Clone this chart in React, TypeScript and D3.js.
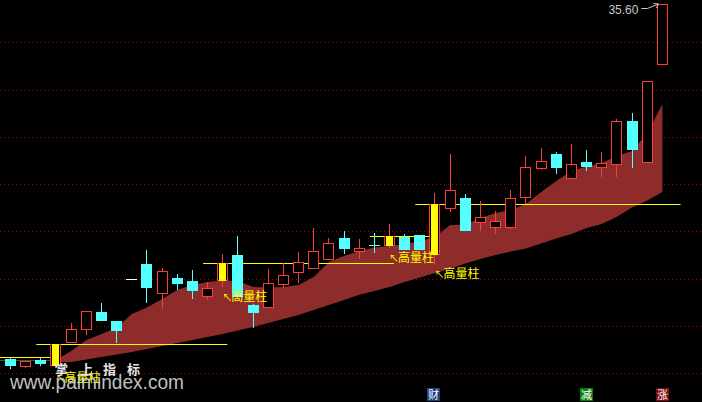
import React from 'react';
import * as d3 from 'd3';

const W = 702;
const H = 402;

// Daily OHLC (price), 44 trading days
const opens = [20.60,20.29,20.55,20.33,21.34,21.86,22.61,22.21,23.98,24.62,23.41,24.03,23.90,23.28,23.95,25.00,22.89,22.82,23.76,24.30,24.47,24.82,25.72,25.16,25.43,25.44,25.78,25.84,25.06,27.00,27.41,26.41,26.20,26.20,27.47,28.70,29.29,28.27,28.94,28.74,28.87,30.67,28.92,33.07];
const highs = [20.66,20.52,20.63,21.25,22.14,22.64,22.99,22.21,23.98,25.22,24.44,24.20,24.37,23.85,25.05,25.81,22.95,24.41,24.65,25.13,26.15,25.71,26.02,25.68,25.92,26.32,25.88,25.85,27.63,29.27,27.58,27.29,26.86,27.75,29.19,29.53,29.37,29.70,29.44,29.36,30.76,31.02,32.36,35.60];
const lows = [20.18,20.22,20.32,20.22,21.27,21.62,22.22,21.27,23.98,22.99,22.71,23.52,23.14,23.10,23.64,23.18,21.90,22.75,23.62,23.83,24.40,24.82,25.03,24.83,25.10,25.29,25.20,25.22,24.61,26.84,26.03,26.03,25.90,26.09,27.15,28.60,28.43,28.23,28.56,28.32,28.32,28.70,28.92,33.07];
const closes = [20.31,20.52,20.41,21.22,21.87,22.64,22.22,21.80,23.98,23.62,24.33,23.79,23.49,23.61,24.65,23.24,22.56,23.81,24.16,24.69,25.16,25.50,25.27,25.29,25.41,25.82,25.23,25.23,27.15,27.75,26.03,26.60,26.44,27.40,28.71,28.98,28.70,28.84,28.74,28.89,30.67,29.44,32.36,35.60];

// Band (starts at day index 3)
const bandStart = 3;
const bandUpper = [20.56,20.94,21.41,21.66,21.93,22.51,22.78,23.14,23.52,23.73,23.86,23.93,23.90,23.65,23.63,23.65,23.73,24.07,24.71,24.96,25.17,25.32,25.38,25.47,25.59,25.76,26.27,26.29,26.57,26.78,26.91,27.16,27.67,28.13,28.56,28.75,28.89,29.19,29.40,30.16,31.39];
const bandLower = [20.48,20.48,20.58,20.69,20.80,20.90,21.03,21.15,21.28,21.41,21.54,21.66,21.81,21.96,22.13,22.30,22.47,22.68,22.89,23.10,23.32,23.48,23.65,23.86,24.05,24.24,24.41,24.64,24.83,25.00,25.15,25.28,25.49,25.70,25.89,26.15,26.31,26.62,27.01,27.31,27.67];

// High-volume bars ("高量柱")
const highVolumeDays = [3, 14, 25, 28];
const highVolumeLabel = '高量柱';
const priorLevel = 20.68;
const priorGreenLevel = 20.58;

const gridPrices = [20, 22, 24, 26, 28, 30, 32, 34];
const lastPriceLabel = '35.60';

const markerDays = [27.9, 38, 43];
const markerTexts = ['财', '减', '涨'];
const markerColors = ['#1d3d7c', '#0b7d0b', '#7d0b0b'];

const RED = '#ff3c3c';
const CYAN = '#54ffff';
const YELLOW = '#ffff00';
const BAND = '#8e2b2b';
const GRID = '#a00000';

export default function App() {
  const n = opens.length;
  const x = d3.scaleLinear().domain([0, n - 1]).range([10.5, 662.4]);
  const y = d3.scaleLinear().domain([20, 34]).range([373.3, 42.3]);
  const step = x(1) - x(0);
  const sy = (p: number) => Math.round(y(p));

  const bandData = bandUpper.map((u, k) => ({ i: bandStart + k, u, l: bandLower[k] }));
  const area = d3
    .area<{ i: number; u: number; l: number }>()
    .x((d) => x(d.i))
    .y0((d) => y(d.l))
    .y1((d) => y(d.u));

  const candles = opens.map((o, i) => {
    const c = closes[i];
    const h = highs[i];
    const l = lows[i];
    const L = Math.round(x(i) - 5.5);
    const cx = L + 5.5;
    const hv = highVolumeDays.includes(i);
    if (o === c && h === l) {
      return (
        <line key={i} x1={L} x2={L + 11} y1={sy(o) + 0.5} y2={sy(o) + 0.5} stroke="#ffffff" strokeWidth={1} />
      );
    }
    if (c >= o) {
      const top = sy(c);
      const bot = sy(o);
      return (
        <g key={i}>
          {sy(h) < top && <line x1={cx} x2={cx} y1={sy(h)} y2={top} stroke={RED} />}
          {sy(l) > bot && <line x1={cx} x2={cx} y1={bot} y2={sy(l)} stroke={RED} />}
          <rect x={L + 0.5} y={top + 0.5} width={10} height={Math.max(0, bot - top)} fill="#000" stroke={RED} strokeWidth={1} />
          {hv && <rect x={L + 2} y={top} width={7} height={bot - top + 1} fill={YELLOW} />}
        </g>
      );
    }
    const top = sy(o);
    const bot = sy(c);
    return (
      <g key={i}>
        <line x1={cx} x2={cx} y1={sy(h)} y2={sy(l)} stroke={CYAN} />
        <rect x={L} y={top} width={11} height={Math.max(1, bot - top)} fill={CYAN} />
      </g>
    );
  });

  const levelLines = highVolumeDays.map((d, k) => {
    const next = highVolumeDays[k + 1];
    const x1 = x(d) - 1.3 * step;
    const x2 = next !== undefined ? x(next) + 0.3 * step : x(n - 1) + 1.2 * step;
    const yy = sy(closes[d]) + 0.5;
    return <line key={d} x1={x1} x2={x2} y1={yy} y2={yy} stroke={YELLOW} strokeWidth={1} />;
  });

  const labels = highVolumeDays.map((d) => {
    const base = sy(lows[d]) + 13.5;
    return (
      <g key={d} fill={YELLOW} fontFamily="'Noto Sans CJK SC', sans-serif">
        <text x={x(d) - 0.5} y={base} fontSize={10}>↖</text>
        <text x={x(d) + 8.5} y={base} fontSize={12}>{highVolumeLabel}</text>
      </g>
    );
  });

  const lastX = x(n - 1) - 5;
  const lastY = sy(highs[n - 1]);

  return (
    <div style={{ position: 'fixed', left: 0, top: 0, width: W, height: H, background: '#000' }}>
      <svg width={W} height={H} style={{ display: 'block' }}>
        <rect x={0} y={0} width={W} height={H} fill="#000" />
        {gridPrices.map((p) => (
          <line key={p} x1={0} x2={W} y1={sy(p) + 0.5} y2={sy(p) + 0.5} stroke={GRID} strokeWidth={1} strokeDasharray="1 3" />
        ))}
        <path d={area(bandData) || ''} fill={BAND} />
        <line x1={0} x2={x(3) - 0.3 * step} y1={sy(priorGreenLevel) + 0.5} y2={sy(priorGreenLevel) + 0.5} stroke="#2f5a2f" />
        <line x1={0} x2={x(3) - 0.3 * step} y1={sy(priorLevel) + 0.5} y2={sy(priorLevel) + 0.5} stroke={YELLOW} />
        {levelLines}
        {candles}
        {labels}
        <text x={lastX - 49} y={14} fontSize={13} fill="#c8c8c8" fontFamily="'Liberation Sans', Arial, sans-serif" textLength={30} lengthAdjust="spacingAndGlyphs">
          {lastPriceLabel}
        </text>
        <path d={`M${lastX - 16},8.5 L${lastX - 10},8.5 L${lastX + 1},${lastY}`} fill="none" stroke="#c8c8c8" />
        <path d={`M${lastX - 4},${lastY - 0.5} L${lastX + 1},${lastY} L${lastX - 1},${lastY + 4}`} fill="none" stroke="#c8c8c8" />
        {markerDays.map((d, k) => (
          <g key={k}>
            <rect x={Math.round(x(d) - 6.5)} y={388} width={13} height={13} fill={markerColors[k]} />
            <text x={Math.round(x(d) - 6.5) + 6.5} y={399} fontSize={11} fill="#fff" textAnchor="middle" fontFamily="'Noto Sans CJK SC', sans-serif">
              {markerTexts[k]}
            </text>
          </g>
        ))}
        <g fill="#e6e6e6" fontFamily="'Noto Sans CJK SC', sans-serif" fontSize={13} fontWeight="bold">
          <text x={55} y={374}>掌</text>
          <text x={80} y={374}>上</text>
          <text x={103} y={374}>指</text>
          <text x={127} y={374}>标</text>
        </g>
        <text x={10} y={389} fontSize={20} fill="#dcdcdc" fillOpacity={0.9} fontFamily="'Liberation Sans', Arial, sans-serif" textLength={174} lengthAdjust="spacingAndGlyphs">
          www.palmindex.com
        </text>
      </svg>
    </div>
  );
}
